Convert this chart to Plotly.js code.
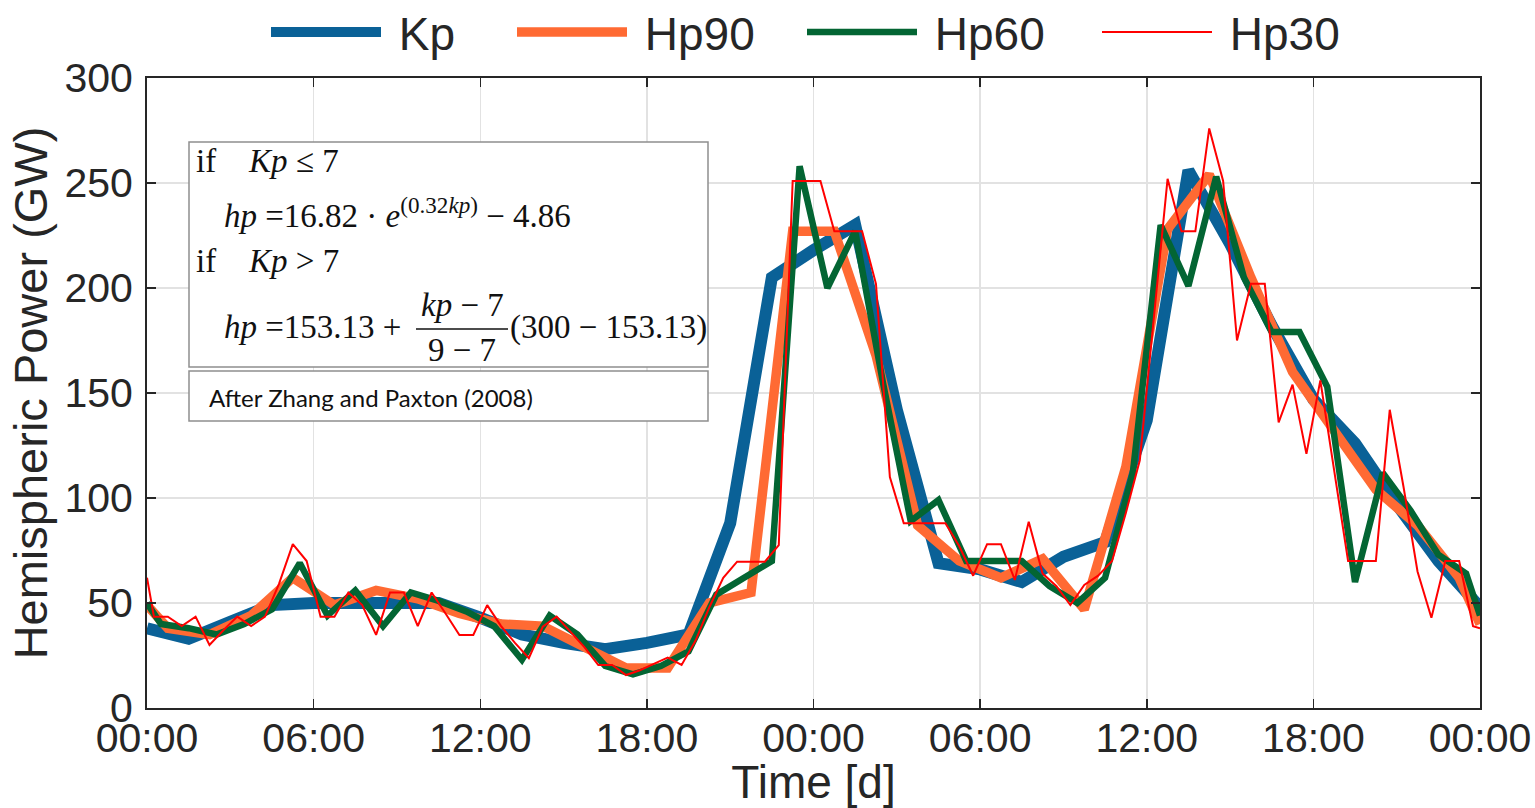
<!DOCTYPE html>
<html>
<head>
<meta charset="utf-8">
<script src="https://cdn.plot.ly/plotly-3.0.1.min.js"></script>
<style>
  html, body { margin: 0; padding: 0; background: #ffffff; }
  #chart { width: 1535px; height: 808px; }
</style>
</head>
<body>
<div id="chart"></div>
<script>
// Axis ticks
const tickHours = [0, 6, 12, 18, 24, 30, 36, 42, 48];
const tickLabels = ['00:00', '06:00', '12:00', '18:00', '00:00', '06:00', '12:00', '18:00', '00:00'];
const powerTicks = [0, 50, 100, 150, 200, 250, 300];

// Kp-derived hemispheric power (GW), sampled every 1.5 h
const kpHours = [0, 1.5, 3, 4.5, 6, 7.5, 9, 10.5, 12, 13.5, 15, 16.5, 18, 19.5, 21, 22.5,
                 24, 25.5, 27, 28.5, 30, 31.5, 33, 34.5, 36, 37.5, 39, 40.5, 42, 43.5, 45, 46.5, 48];
const kpPower = [38, 33, 41, 49, 50, 50, 51, 50, 43, 35, 31, 28, 31, 35, 88, 205,
                 218, 230, 142, 69, 66, 60, 72, 79, 137, 256, 221, 182, 147, 126, 97, 70, 48];

// Hp90: interval midpoints, plus the first and last edge values
const hp90Power = [49,
  38, 35, 44, 62, 49, 56, 52, 45, 40, 39,
  29, 19, 19, 50, 55, 227, 227, 168, 87, 70,
  62, 71, 47, 115, 228, 254, 205, 160, 132, 104,
  87, 62,
  40];

// Hp60
const hp60Power = [50,
  40, 38, 35, 40, 47, 69, 44, 56, 39, 55,
  51, 46, 39, 23, 44, 35, 20, 16, 20, 27,
  54, 62, 70, 258, 200, 227, 155, 89, 99, 70,
  70, 70, 58, 50, 62, 112, 230, 201, 253, 205,
  179, 179, 153, 60, 112, 94, 73, 64,
  44];

// Hp30
const hp30Power = [62,
  43.5, 43.5, 39, 43.5, 30, 37, 43.5, 39, 43.5, 59,
  78, 70, 43.5, 43.5, 55, 49, 34.8, 55, 55, 39,
  55, 45, 34.8, 34.8, 49, 39, 31, 23.7, 38.7, 43.5,
  36, 29, 20.5, 20.5, 15.7, 18, 21, 24, 20.5, 32,
  48, 62, 69.7, 69.7, 69.7, 77.6, 251, 251, 251, 227,
  227, 227, 202, 110, 88, 88, 88, 88, 77, 63,
  78, 78, 61, 88.7, 64, 58, 49, 58.6, 63, 70,
  93, 118, 185, 252, 227, 227, 276, 251, 175, 202,
  202, 136, 154, 121, 156, 112, 70, 70, 70, 142,
  105, 65, 43, 70, 70, 39,
  38];

const spanHours = 48;

// Time stamps: start edge, centre of every interval of the given cadence, end edge
function cadenceTimes(stepHours) {
  const t = [0];
  for (let h = stepHours / 2; h < spanHours; h += stepHours) t.push(h);
  t.push(spanHours);
  return t;
}

// Leading no-break space widens the gap between legend swatch and label
const gap = '\u00a0';
const traces = [
  { name: gap + 'Kp',   legend: 'legend',  x: kpHours,           y: kpPower,   mode: 'lines', line: { color: '#0a6197', width: 12 } },
  { name: gap + 'Hp90', legend: 'legend2', x: cadenceTimes(1.5), y: hp90Power, mode: 'lines', line: { color: '#ff6a33', width: 9.5 } },
  { name: gap + 'Hp60', legend: 'legend3', x: cadenceTimes(1),   y: hp60Power, mode: 'lines', line: { color: '#036533', width: 6.5 } },
  { name: gap + 'Hp30', legend: 'legend4', x: cadenceTimes(0.5), y: hp30Power, mode: 'lines', line: { color: '#ff0000', width: 2 } }
];

// Page and plot-area geometry (px)
const PW = 1535, PH = 808;
const L = 147, T = 78, W = 1333, H = 630;
const px = x => (x - L) / W;
const py = y => (T + H - y) / H;

const mathFont = { family: 'Liberation Serif, DejaVu Serif, serif', size: 33, color: '#111111' };
function mathNote(text, x, y, anchor) {
  return { text: text, xref: 'paper', yref: 'paper', x: px(x), y: py(y),
           xanchor: anchor || 'left', yanchor: 'middle', showarrow: false, font: mathFont };
}

const annotations = [
  mathNote('if', 194, 161),
  mathNote('<i>Kp</i> ≤ 7', 246, 161),
  mathNote('<i>hp</i> =16.82 · <i>e</i><sup>(0.32<i>kp</i>)</sup> − 4.86', 222, 213),
  mathNote('if', 194, 261),
  mathNote('<i>Kp</i> > 7', 246, 261),
  mathNote('<i>hp</i> =153.13 +', 222, 327),
  mathNote('<i>kp</i> − 7', 462, 305, 'center'),
  mathNote('9 − 7', 462, 350, 'center'),
  mathNote('(300 − 153.13)', 508, 327),
  { text: 'After Zhang and Paxton (2008)', xref: 'paper', yref: 'paper', x: px(207), y: py(397),
    xanchor: 'left', yanchor: 'middle', showarrow: false,
    font: { family: 'Lato, Open Sans, sans-serif', size: 24, color: '#111111' } }
];

const shapes = [
  { type: 'rect', xref: 'paper', yref: 'paper', x0: px(189), x1: px(708), y0: py(367), y1: py(142),
    line: { color: '#8f8f8f', width: 1.5 }, fillcolor: '#ffffff', layer: 'above' },
  { type: 'rect', xref: 'paper', yref: 'paper', x0: px(189), x1: px(708), y0: py(421), y1: py(371),
    line: { color: '#8f8f8f', width: 1.5 }, fillcolor: '#ffffff', layer: 'above' },
  { type: 'line', xref: 'paper', yref: 'paper', x0: px(416), x1: px(508), y0: py(329), y1: py(329),
    line: { color: '#111111', width: 1.3 }, layer: 'above' }
];

const axisCommon = {
  ticks: 'inside', ticklen: 9, tickwidth: 1.5, tickcolor: '#262626',
  showline: true, linecolor: '#262626', linewidth: 2, mirror: 'ticks',
  showgrid: true, gridcolor: '#e2e2e2', gridwidth: 1.5, zeroline: false,
  tickfont: { family: 'Liberation Sans, Arial, sans-serif', size: 41, color: '#262626' }
};

// One single-entry legend per series, placed along the top of the page
function legendAt(leftPx) {
  return {
    xref: 'container', yref: 'container',
    x: leftPx / PW, xanchor: 'left', y: 1 - 32 / PH, yanchor: 'middle',
    orientation: 'h', itemwidth: 110, bgcolor: 'rgba(0,0,0,0)', borderwidth: 0,
    font: { family: 'Liberation Sans, Arial, sans-serif', size: 46, color: '#262626' }
  };
}

const layout = {
  width: PW, height: PH,
  margin: { l: L, r: PW - L - W, t: T, b: PH - T - H },
  paper_bgcolor: '#ffffff', plot_bgcolor: '#ffffff',
  showlegend: true,
  legend: legendAt(266),
  legend2: legendAt(512),
  legend3: legendAt(802),
  legend4: legendAt(1097),
  xaxis: Object.assign({}, axisCommon, {
    range: [0, spanHours], tickmode: 'array', tickvals: tickHours, ticktext: tickLabels,
    ticklabelstandoff: -7,
    title: { text: 'Time [d]', standoff: 4,
             font: { family: 'Liberation Sans, Arial, sans-serif', size: 46, color: '#262626' } }
  }),
  yaxis: Object.assign({}, axisCommon, {
    range: [0, 300], tickmode: 'array', tickvals: powerTicks,
    ticklabelstandoff: 4,
    title: { text: 'Hemispheric Power (GW)', standoff: 2,
             font: { family: 'Liberation Sans, Arial, sans-serif', size: 47, color: '#262626' } }
  }),
  annotations: annotations,
  shapes: shapes
};

Plotly.newPlot('chart', traces, layout, { staticPlot: true, displayModeBar: false });
</script>
</body>
</html>
